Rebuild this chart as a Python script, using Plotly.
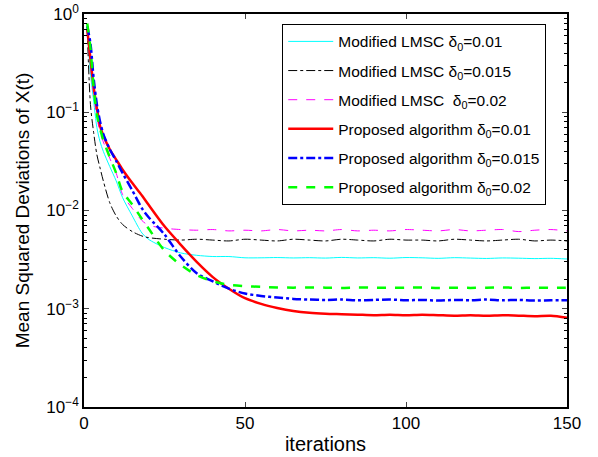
import plotly.graph_objects as go

# ---------------- data ----------------
it_head = [1, 2, 3, 4, 5, 6, 8, 10, 12, 15, 18, 20, 25, 30, 35, 40, 45, 50, 55, 60, 65, 70]
it_tail = list(range(75, 151, 5))

mod_001 = [0.7, 0.25, 0.13, 0.07, 0.05, 0.04, 0.028, 0.02, 0.0135, 0.0088, 0.0059, 0.0051,
           0.0042, 0.0037, 0.0035, 0.0034, 0.0034, 0.0033, 0.0033, 0.00332, 0.00329, 0.00331]
mod_001_t = [0.00328, 0.00333, 0.00329, 0.00331, 0.00327, 0.00332, 0.00330, 0.00326, 0.00331,
             0.00328, 0.00325, 0.00329, 0.00327, 0.00324, 0.00326, 0.00321]

mod_0015 = [0.7, 0.12, 0.062, 0.037, 0.027, 0.02, 0.012, 0.0088, 0.0072, 0.0061, 0.0055, 0.0053,
            0.0051, 0.0050, 0.0051, 0.0050, 0.0049, 0.0051, 0.0050, 0.0049, 0.0051, 0.0050]
mod_0015_t = [0.0049, 0.0051, 0.0050, 0.0049, 0.0051, 0.0050, 0.0050, 0.0049, 0.0051,
              0.0050, 0.0049, 0.0050, 0.0051, 0.0049, 0.0050, 0.0049]

mod_002 = [0.7, 0.3, 0.15, 0.09, 0.062, 0.05, 0.034, 0.024, 0.0145, 0.0105, 0.0079, 0.0071,
           0.0066, 0.0064, 0.0063, 0.0064, 0.0062, 0.0063, 0.0062, 0.0064, 0.0062, 0.0063]
mod_002_t = [0.0062, 0.0064, 0.0062, 0.0063, 0.0062, 0.0064, 0.0063, 0.0062, 0.0064,
             0.0062, 0.0063, 0.0064, 0.0061, 0.0063, 0.0064, 0.0062]

prop_001 = [0.7, 0.35, 0.18, 0.11, 0.072, 0.058, 0.042, 0.033, 0.026, 0.019, 0.0142, 0.0115,
            0.0069, 0.0045, 0.0030, 0.0021, 0.0016, 0.00128, 0.00112, 0.00102, 0.00095, 0.00091]
prop_001_t = [0.00089, 0.00088, 0.00087, 0.00086, 0.00087, 0.00086, 0.00087, 0.00086, 0.00085,
              0.00086, 0.00085, 0.00086, 0.00085, 0.00084, 0.00085, 0.00081]

prop_0015 = [0.75, 0.5, 0.22, 0.12, 0.08, 0.06, 0.042, 0.032, 0.024, 0.016, 0.0105, 0.0086,
             0.0057, 0.0034, 0.0023, 0.0019, 0.0016, 0.00143, 0.00135, 0.0013, 0.00126, 0.00124]
prop_0015_t = [0.00123, 0.00124, 0.00122, 0.00123, 0.00124, 0.00122, 0.00123, 0.00121, 0.00123,
               0.00122, 0.00124, 0.00122, 0.00123, 0.00121, 0.00122, 0.00122]

prop_002 = [0.8, 0.45, 0.18, 0.095, 0.068, 0.052, 0.035, 0.024, 0.0155, 0.0115, 0.0082, 0.0066,
            0.0039, 0.0028, 0.0022, 0.0019, 0.00175, 0.0017, 0.00167, 0.00165, 0.00164, 0.00165]
prop_002_t = [0.00164, 0.00163, 0.00165, 0.00164, 0.00163, 0.00164, 0.00165, 0.00163, 0.00164,
              0.00163, 0.00164, 0.00165, 0.00163, 0.00164, 0.00163, 0.00164]

names = ["Modified LMSC δ<sub>0</sub>=0.01",
         "Modified LMSC δ<sub>0</sub>=0.015",
         "Modified LMSC \u00a0δ<sub>0</sub>=0.02",
         "Proposed algorithm δ<sub>0</sub>=0.01",
         "Proposed algorithm δ<sub>0</sub>=0.015",
         "Proposed algorithm δ<sub>0</sub>=0.02"]

y_tickvals = [1e-4, 1e-3, 1e-2, 1e-1, 1]
y_ticktext = ["10<sup>−4</sup>", "10<sup>−3</sup>", "10<sup>−2</sup>", "10<sup>−1</sup>", "10<sup>0</sup>"]
x_tickvals = [0, 50, 100, 150]

# ---------------- figure ----------------
iters = it_head + it_tail
series = [mod_001 + mod_001_t, mod_0015 + mod_0015_t, mod_002 + mod_002_t,
          prop_001 + prop_001_t, prop_0015 + prop_0015_t, prop_002 + prop_002_t]
styles = [dict(color="#00FFFF", width=1, dash="solid"),
          dict(color="#000000", width=1, dash="dashdot"),
          dict(color="#FF00FF", width=1, dash="dash"),
          dict(color="#FF0000", width=2.5, dash="solid"),
          dict(color="#0000FF", width=2.5, dash="dashdot"),
          dict(color="#00FF00", width=2.5, dash="dash")]

fig = go.Figure()
for i, (nm, ys, st) in enumerate(zip(names, series, styles)):
    fig.add_trace(go.Scatter(x=iters, y=ys, mode="lines", name=nm,
                             line=dict(shape="spline", smoothing=0.8, **st),
                             legendgroup=f"g{i}"))

minor_vals = [m * 10 ** e for e in range(-4, 0) for m in range(2, 10)]
# invisible trace on an overlay axis to carry minor ticks
fig.add_trace(go.Scatter(x=[0], y=[1], yaxis="y2", mode="markers",
                         marker=dict(opacity=0), showlegend=False, hoverinfo="skip"))

font_family = "Liberation Sans, Arial, Helvetica, sans-serif"
fig.update_layout(
    width=598, height=457,
    margin=dict(l=84, r=31, t=14, b=50),
    plot_bgcolor="white", paper_bgcolor="white",
    font=dict(family=font_family, color="black", size=16),
    showlegend=True,
    legend=dict(x=0.957, y=0.975, xanchor="right", yanchor="top",
                bgcolor="white", bordercolor="black", borderwidth=1,
                font=dict(size=15.5), traceorder="grouped", tracegroupgap=6,
                itemwidth=45),
    xaxis=dict(range=[0, 150], tickvals=x_tickvals, ticks="inside", ticklen=5,
               showline=True, linecolor="black", linewidth=1.5, mirror="ticks",
               showgrid=False, zeroline=False, tickfont=dict(size=17), automargin=False,
               ticklabeloverflow="allow",
               title=dict(text="iterations", font=dict(size=20), standoff=5)),
    yaxis=dict(type="log", range=[-4, 0], tickvals=y_tickvals, ticktext=y_ticktext,
               ticks="inside", ticklen=5, showline=True, linecolor="black", linewidth=1.5,
               mirror="ticks", showgrid=False, zeroline=False, tickfont=dict(size=17),
               automargin=False, ticklabeloverflow="allow",
               title=dict(text="Mean Squared Deviations of X(t)", font=dict(size=19), standoff=12)),
    yaxis2=dict(type="log", range=[-4, 0], overlaying="y", side="left", tickvals=minor_vals,
                ticks="inside", ticklen=3, showticklabels=False, showgrid=False,
                zeroline=False, showline=False, mirror="ticks", tickcolor="black",
                automargin=False),
)

fig.write_html("out.html", config={"displayModeBar": False},
               post_script="document.body.style.margin='0px';")
